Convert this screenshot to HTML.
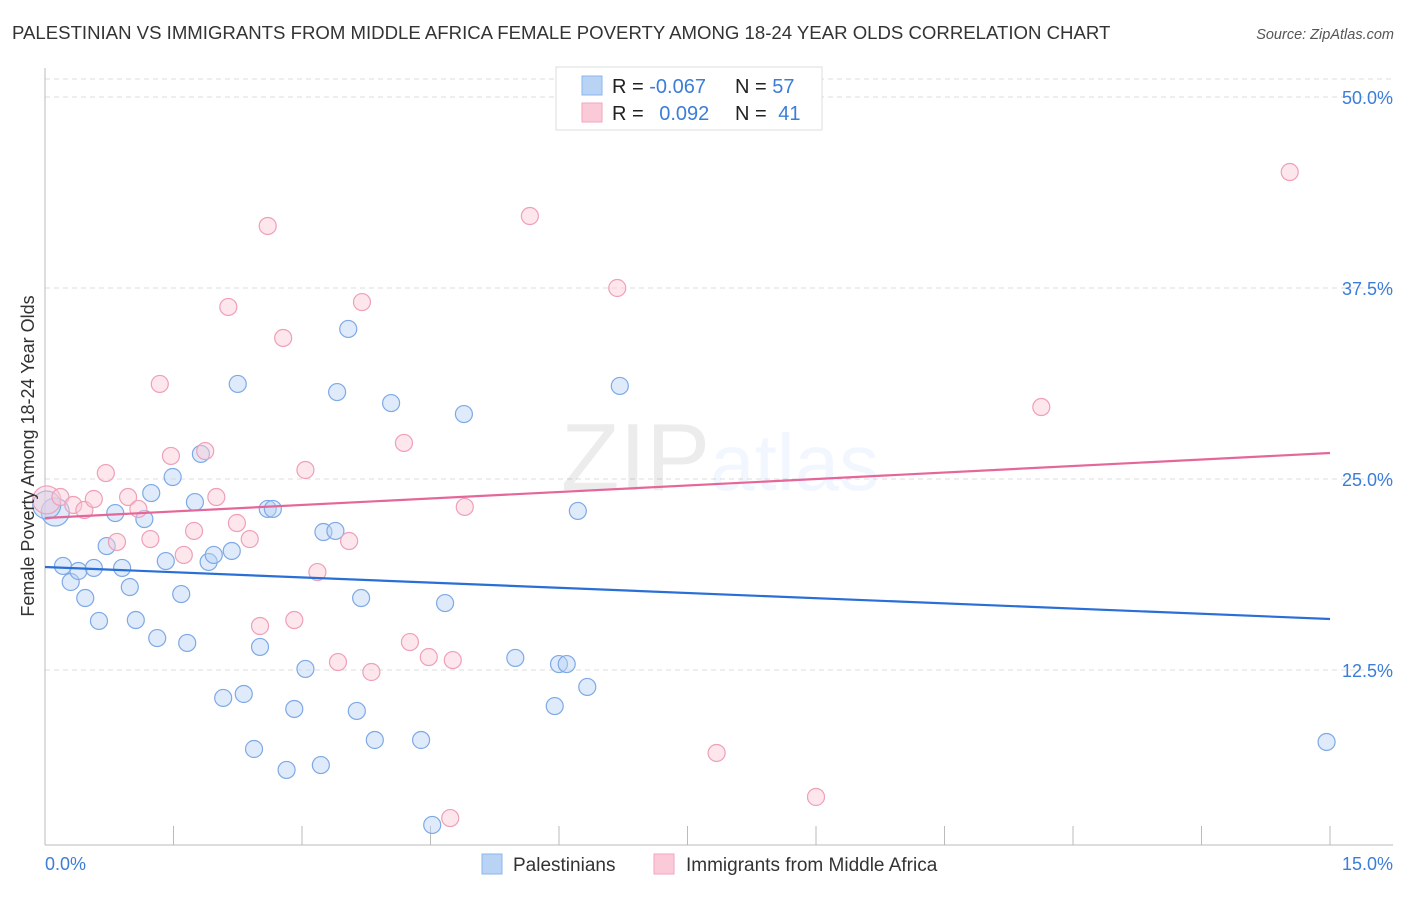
<!DOCTYPE html>
<html><head><meta charset="utf-8">
<style>
body{margin:0;background:#fff;font-family:"Liberation Sans",sans-serif;}
svg text{font-family:"Liberation Sans",sans-serif;}
</style></head>
<body>
<svg id="chart" width="1406" height="892" xmlns="http://www.w3.org/2000/svg">
<text x="12" y="39" font-size="18.6" fill="#333">PALESTINIAN VS IMMIGRANTS FROM MIDDLE AFRICA FEMALE POVERTY AMONG 18-24 YEAR OLDS CORRELATION CHART</text>
<text x="1394" y="39" font-size="14.5" fill="#555" text-anchor="end" font-style="italic">Source: ZipAtlas.com</text>
<g id="grid"></g>
<text x="720" y="490" font-size="96" text-anchor="middle" fill="#000" opacity="0.07" font-family="Liberation Serif">ZIP<tspan fill="#3b82f6" opacity="0.9" font-family="Liberation Sans" font-size="80">atlas</tspan></text>
<g id="marks"></g>
<text transform="translate(34,456) rotate(-90)" font-size="18" fill="#333" text-anchor="middle">Female Poverty Among 18-24 Year Olds</text>
<text x="45" y="870" font-size="18" fill="#3b7dd8">0.0%</text>
<text x="1393" y="870" font-size="18" fill="#3b7dd8" text-anchor="end">15.0%</text>
<g>
<rect x="556" y="67" width="266" height="63" fill="#fff" stroke="#ddd"/>
<rect x="582" y="76" width="20" height="19" fill="#b9d3f5" stroke="#8ab4ec"/>
<rect x="582" y="103" width="20" height="19" fill="#fbcad8" stroke="#f2a6bd"/>
<text x="612" y="93" font-size="20" fill="#222">R = <tspan fill="#3b7dd8">-0.067</tspan></text>
<text x="735" y="93" font-size="20" fill="#222">N = <tspan fill="#3b7dd8">57</tspan></text>
<text x="612" y="120" font-size="20" fill="#222">R = <tspan fill="#3b7dd8" dx="10">0.092</tspan></text>
<text x="735" y="120" font-size="20" fill="#222">N = <tspan fill="#3b7dd8" dx="6">41</tspan></text>
</g>
<g>
<rect x="482" y="854" width="20" height="20" fill="#b9d3f5" stroke="#8ab4ec"/>
<text x="513" y="871" font-size="19" fill="#333">Palestinians</text>
<rect x="654" y="854" width="20" height="20" fill="#fbcad8" stroke="#f2a6bd"/>
<text x="686" y="871" font-size="19" fill="#333">Immigrants from Middle Africa</text>
</g>
</svg>
<script>
const yTicks=[12.5,25,37.5,50];
const yTickLabels=["12.5%","25.0%","37.5%","50.0%"];
const xTicks=[0,1.5,3,4.5,6,7.5,9,10.5,12,13.5,15];
const blueX=[0.12,0.21,0.30,0.39,0.47,0.57,0.63,0.72,0.82,0.90,0.99,1.06,1.16,1.24,1.31,1.41,1.49,1.59,1.66,1.75,1.82,1.91,1.97,2.08,2.18,2.25,2.32,2.44,2.51,2.60,2.66,2.82,2.91,3.04,3.22,3.25,3.39,3.41,3.54,3.64,3.69,3.85,4.04,4.39,4.52,4.67,4.89,5.49,5.95,6.00,6.09,6.22,6.33,6.71,7.86,14.96,0.02];
const blueY=[22.84,19.31,18.26,18.98,17.21,19.18,15.71,20.61,22.77,19.18,17.93,15.77,22.38,24.08,14.59,19.63,25.13,17.47,14.27,23.49,26.64,19.57,20.03,10.67,20.29,31.22,10.93,7.33,14.01,23.04,23.04,5.96,9.95,12.57,6.28,21.53,21.60,30.69,34.82,9.82,17.21,7.92,29.97,7.92,2.36,16.88,29.25,13.29,10.14,12.89,12.89,22.91,11.39,31.09,49.67,7.79,23.30];
const pinkX=[0.02,0.18,0.33,0.46,0.57,0.71,0.84,0.97,1.09,1.23,1.34,1.47,1.62,1.74,1.87,2.00,2.14,2.24,2.39,2.51,2.60,2.78,2.91,3.04,3.18,3.42,3.55,3.70,3.81,4.19,4.26,4.48,4.73,4.76,4.90,5.66,6.68,7.84,9.00,11.63,14.53];
const pinkY=[23.63,23.82,23.30,22.97,23.69,25.39,20.88,23.82,23.04,21.07,31.22,26.51,20.03,21.60,26.83,23.82,36.26,22.12,21.07,15.38,41.56,34.23,15.77,25.59,18.91,13.02,20.94,36.58,12.37,27.36,14.33,13.35,2.81,13.15,23.17,42.21,37.50,7.07,4.19,29.71,45.09];
const blueTrend=[19.24,15.84];
const pinkTrend=[22.45,26.70];
const NS="http://www.w3.org/2000/svg";
const xs=v=>45+v/15*1285;
const ys=v=>861-v/12.5*191;
function mk(tag,attrs,parent){const e=document.createElementNS(NS,tag);for(const k in attrs)e.setAttribute(k,attrs[k]);parent.appendChild(e);return e;}
const grid=document.getElementById('grid'),marks=document.getElementById('marks'),svg=document.getElementById('chart');
yTicks.forEach((t,i)=>{
 const l=mk('line',{x1:45,x2:1393,y1:ys(t),y2:ys(t),stroke:'#ddd','stroke-dasharray':'5,4'},grid);
 
 
 const tx=mk('text',{x:1393,y:ys(t)+7,'font-size':18,fill:'#3b7dd8','text-anchor':'end'},svg);
 tx.textContent=yTickLabels[i];
 
 
});
const topLine=mk('line',{x1:45,x2:1393,y1:79,y2:79,stroke:'#ddd','stroke-dasharray':'5,4'},grid);


const ax=mk('line',{x1:45,x2:1393,y1:845,y2:845,stroke:'#bbb'},grid);


const ay=mk('line',{x1:45,x2:45,y1:68,y2:845,stroke:'#bbb'},grid);


xTicks.forEach(t=>{
 const l=mk('line',{x1:xs(t),x2:xs(t),y1:826,y2:845,stroke:'#bbb'},grid);
 
 
});
function pts(X,Y,fill,stroke,name){
 X.forEach((x,i)=>{
  const big=(x<0.15&&i===0)||(x<0.05);
  const c=mk('circle',{cx:xs(x),cy:ys(Y[i]),r:big?14:8.5,fill:fill,'fill-opacity':0.45,stroke:stroke,'stroke-width':1.2},marks);
  
  
 });
}
pts(blueX,blueY,'#b9d3f5','#7ea9e6','palestinian-point');
pts(pinkX,pinkY,'#fbcad8','#ef9fb8','middle-africa-point');
const bl=mk('line',{x1:xs(0),y1:ys(blueTrend[0]),x2:xs(15),y2:ys(blueTrend[1]),stroke:'#2a6fd6','stroke-width':2.2},marks);


const pl=mk('line',{x1:xs(0),y1:ys(pinkTrend[0]),x2:xs(15),y2:ys(pinkTrend[1]),stroke:'#e5679a','stroke-width':2.2},marks);


</script>
</body></html>
